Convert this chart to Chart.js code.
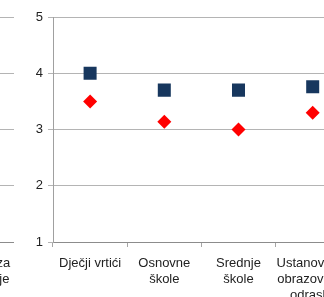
<!DOCTYPE html>
<html>
<head>
<meta charset="utf-8">
<script src="https://cdn.jsdelivr.net/npm/chart.js@4"></script>
<style>
  html, body { margin: 0; padding: 0; width: 324px; height: 297px; overflow: hidden; background: #fff; }
  .box { position: absolute; top: 0; height: 297px; }
  #leftBox { left: -359px; width: 373px; }
  #mainBox { left: 0; width: 359px; }
</style>
</head>
<body>
<div class="box" id="leftBox"><canvas id="leftChart"></canvas></div>
<div class="box" id="mainBox"><canvas id="mainChart"></canvas></div>
<script>
// categories of the chart on the right (the visible one)
const categories = [
    'Dječji vrtići',
    ['Osnovne', 'škole'],
    ['Srednje', 'škole'],
    ['Ustanove za', 'obrazovanje', 'odraslih']
];
// categories of the neighbouring chart (only its edge shows)
const leftCategories = ['', '', '', ['Ustanove za', 'obrazovanje', 'odraslih']];

const squareValues = [4.0, 3.7, 3.7, 3.76];   // navy squares
const diamondValues = [3.5, 3.14, 3.0, 3.3];   // red diamonds
const yTicks = [1, 2, 3, 4, 5];

const font = { family: "'Liberation Sans', Arial, sans-serif", size: 13, lineHeight: 1.2 };

function makeOptions(noSidePadding) {
    return {
        responsive: true,
        maintainAspectRatio: false,
        animation: false,
        layout: { padding: { top: 17, right: 0, left: 0, bottom: 0 } },
        plugins: { legend: { display: false }, tooltip: { enabled: false } },
        scales: {
            x: {
                offset: true,
                grid: { offset: true, drawOnChartArea: false, color: '#a6a6a6', tickLength: 5 },
                border: { color: '#8c8c8c' },
                ticks: { font: font, color: '#222', maxRotation: 0, autoSkip: false, padding: 9 },
                afterFit: scale => {
                    scale.height = 55;
                    if (noSidePadding) { scale.paddingLeft = 0; scale.paddingRight = 0; }
                }
            },
            y: {
                min: 1,
                max: 5,
                afterBuildTicks: scale => { scale.ticks = yTicks.map(v => ({ value: v })); },
                grid: { color: '#b4b4b4', tickLength: 5 },
                border: { color: '#a0a0a0' },
                ticks: { font: font, color: '#222', padding: 5 },
                afterFit: scale => { scale.width = 53; }
            }
        }
    };
}

new Chart(document.getElementById('leftChart'), {
    type: 'line',
    data: { labels: leftCategories, datasets: [] },
    options: makeOptions(true)
});

new Chart(document.getElementById('mainChart'), {
    type: 'line',
    data: {
        labels: categories,
        datasets: [
            {
                data: squareValues,
                showLine: false,
                pointStyle: 'rect',
                pointRadius: 9.2,
                pointBackgroundColor: '#17375e',
                pointBorderWidth: 0
            },
            {
                data: diamondValues,
                showLine: false,
                pointStyle: 'rectRot',
                pointRadius: 7,
                pointBackgroundColor: '#ff0000',
                pointBorderWidth: 0
            }
        ]
    },
    options: makeOptions(false)
});
</script>
</body>
</html>
